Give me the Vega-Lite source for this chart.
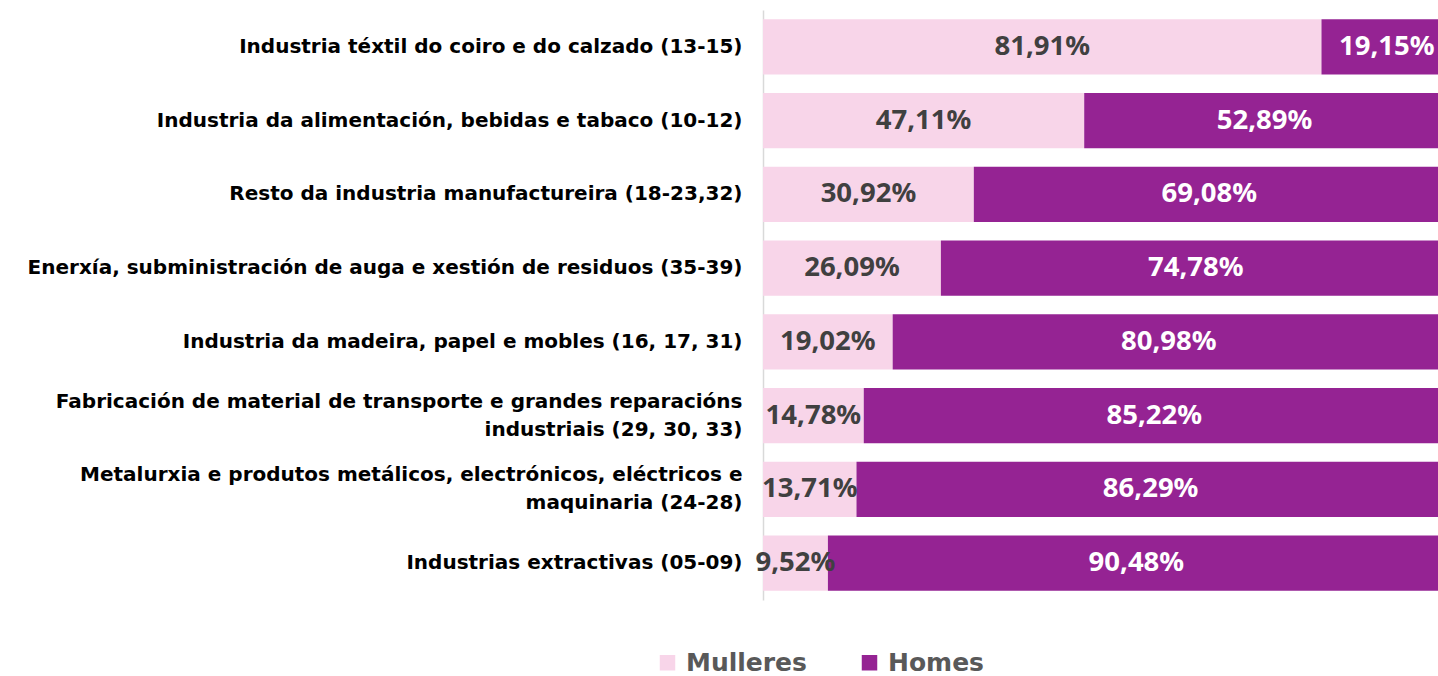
{
  "$schema": "https://vega.github.io/schema/vega-lite/v6.json",
  "width": 675,
  "height": 590,
  "autosize": {"type": "none"},
  "padding": {"left": 763, "top": 10, "right": 0, "bottom": 76},
  "config": {
    "view": {"stroke": null},
    "locale": {"number": {"decimal": ",", "thousands": ".", "grouping": [3], "currency": ["", "%"]}},
    "font": "Noto Sans"
  },
  "data": {
    "values": [
      {"cat": "Industria téxtil do coiro e do calzado (13-15)", "sex": "Mulleres", "value": 81.91},
      {"cat": "Industria téxtil do coiro e do calzado (13-15)", "sex": "Homes", "value": 19.15},
      {"cat": "Industria da alimentación, bebidas e tabaco (10-12)", "sex": "Mulleres", "value": 47.11},
      {"cat": "Industria da alimentación, bebidas e tabaco (10-12)", "sex": "Homes", "value": 52.89},
      {"cat": "Resto da industria manufactureira (18-23,32)", "sex": "Mulleres", "value": 30.92},
      {"cat": "Resto da industria manufactureira (18-23,32)", "sex": "Homes", "value": 69.08},
      {"cat": "Enerxía, subministración de auga e xestión de residuos (35-39)", "sex": "Mulleres", "value": 26.09},
      {"cat": "Enerxía, subministración de auga e xestión de residuos (35-39)", "sex": "Homes", "value": 74.78},
      {"cat": "Industria da madeira, papel e mobles (16, 17, 31)", "sex": "Mulleres", "value": 19.02},
      {"cat": "Industria da madeira, papel e mobles (16, 17, 31)", "sex": "Homes", "value": 80.98},
      {"cat": "Fabricación de material de transporte e grandes reparacións|industriais (29, 30, 33)", "sex": "Mulleres", "value": 14.78},
      {"cat": "Fabricación de material de transporte e grandes reparacións|industriais (29, 30, 33)", "sex": "Homes", "value": 85.22},
      {"cat": "Metalurxia e produtos metálicos, electrónicos, eléctricos e|maquinaria (24-28)", "sex": "Mulleres", "value": 13.71},
      {"cat": "Metalurxia e produtos metálicos, electrónicos, eléctricos e|maquinaria (24-28)", "sex": "Homes", "value": 86.29},
      {"cat": "Industrias extractivas (05-09)", "sex": "Mulleres", "value": 9.52},
      {"cat": "Industrias extractivas (05-09)", "sex": "Homes", "value": 90.48}
    ]
  },
  "encoding": {
    "y": {
      "field": "cat",
      "type": "nominal",
      "sort": null,
      "title": null,
      "scale": {"paddingInner": 0.25, "paddingOuter": 0.125},
      "axis": {
        "labelExpr": "split(datum.label, '|')",
        "labelFont": "DejaVu Sans",
        "labelFontSize": 20,
        "labelFontWeight": "bold",
        "labelColor": "#000000",
        "labelPadding": 21,
        "labelLimit": 0,
        "labelLineHeight": 28,
        "labelOffset": {"condition": {"test": "indexof(datum.value, '|') >= 0", "value": -14}, "value": 0},
        "ticks": false,
        "domainColor": "#d9d9d9",
        "domainWidth": 1.5
      }
    }
  },
  "layer": [
    {
      "mark": {"type": "bar", "clip": true},
      "encoding": {
        "x": {"field": "value", "type": "quantitative", "stack": "zero", "scale": {"domain": [0, 99], "nice": false}, "axis": null},
        "color": {
          "field": "sex",
          "type": "nominal",
          "scale": {"domain": ["Mulleres", "Homes"], "range": ["#F8D5E9", "#952393"]},
          "legend": {
            "title": null,
            "orient": "none",
            "legendX": -108,
            "legendY": 640,
            "direction": "horizontal",
            "symbolType": "square",
            "symbolSize": 240,
            "symbolStrokeWidth": 0,
            "labelFont": "DejaVu Sans",
            "labelFontSize": 25,
            "labelFontWeight": "bold",
            "labelColor": "#595959",
            "labelOffset": 6,
            "columnPadding": 50
          }
        },
        "order": {"field": "sex", "sort": "descending"}
      }
    },
    {
      "mark": {"type": "text", "fontSize": 27.5, "fontWeight": "bold", "align": "center", "baseline": "middle"},
      "encoding": {
        "x": {"field": "value", "type": "quantitative", "stack": "zero", "bandPosition": 0.5},
        "detail": {"field": "sex"},
        "order": {"field": "sex", "sort": "descending"},
        "text": {"field": "value", "type": "quantitative", "format": "$.2f"},
        "color": {"condition": {"test": "datum.sex === 'Homes'", "value": "#ffffff"}, "value": "#404040"}
      }
    }
  ]
}
